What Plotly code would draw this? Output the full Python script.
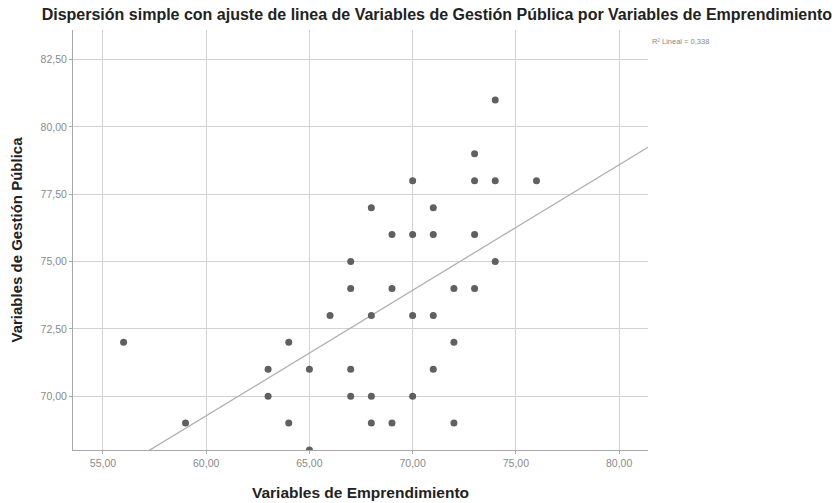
import numpy as np
import plotly.graph_objects as go

emprendimiento = [56, 59, 63, 63, 64, 64, 65, 65, 66, 67, 67, 67, 67, 68, 68, 68, 68,
                  69, 69, 69, 70, 70, 70, 70, 71, 71, 71, 71, 72, 72, 72, 73, 73, 73, 73,
                  74, 74, 74, 76]
gestion = [72, 69, 71, 70, 72, 69, 71, 68, 73, 75, 74, 71, 70, 73, 70, 69, 77,
           74, 69, 76, 73, 70, 78, 76, 73, 71, 77, 76, 74, 72, 69, 74, 79, 78, 76,
           75, 81, 78, 78]
x_ticks = [55, 60, 65, 70, 75, 80]
y_ticks = [70, 72.5, 75, 77.5, 80, 82.5]
r2_label = "R² Lineal = 0,338"

x = np.array(emprendimiento, dtype=float)
y = np.array(gestion, dtype=float)
slope, intercept = np.polyfit(x, y, 1)
x_range = [53.55, 81.4]
y_range = [68.0, 83.6]
xl = np.array(x_range)
yl = slope * xl + intercept

fig = go.Figure()
fig.add_trace(go.Scatter(x=xl, y=yl, mode="lines",
                         line=dict(color="#b0b0b0", width=1.3),
                         hoverinfo="skip", showlegend=False, cliponaxis=True))
fig.add_trace(go.Scatter(x=emprendimiento, y=gestion, mode="markers",
                         marker=dict(color="#606060", size=7),
                         showlegend=False, cliponaxis=True))

axis_common = dict(showgrid=True, gridcolor="#d2d2d2", gridwidth=1, automargin=False,
                   zeroline=False, showline=True, linecolor="#a8a8a8", linewidth=1,
                   ticks="outside", ticklen=3, tickcolor="#a8a8a8",
                   tickfont=dict(family="Arial", size=10.5, color="#8a8a8a"),
                   tickformat=".2f")

fig.update_layout(
    width=837, height=503,
    paper_bgcolor="white", plot_bgcolor="white",
    margin=dict(l=73, r=189, t=30, b=53),
    separators=",.",
    title=dict(text="<b>Dispersión simple con ajuste de linea de Variables de Gestión Pública por Variables de Emprendimiento</b>",
               x=0.522, xanchor="center", y=0.972, yanchor="middle",
               font=dict(family="Arial", size=16, color="#222222")),
    xaxis=dict(range=x_range, tickvals=x_ticks,
               title=dict(text="<b>Variables de Emprendimiento</b>", standoff=19,
                          font=dict(family="Arial", size=15.5, color="#222222")),
               **axis_common),
    yaxis=dict(range=y_range, tickvals=y_ticks,
               title=dict(text="<b>Variables de Gestión Pública</b>", standoff=14,
                          font=dict(family="Arial", size=15, color="#222222")),
               **axis_common),
    annotations=[dict(text=r2_label, xref="paper", yref="paper", x=1.004, y=0.972,
                      xanchor="left", yanchor="middle", showarrow=False,
                      font=dict(family="Arial", size=7.5, color="#8a8a8a"))],
)

fig.write_html("out.html", config={"displayModeBar": False},
               post_script="document.body.style.margin='0';document.body.style.padding='0';")
